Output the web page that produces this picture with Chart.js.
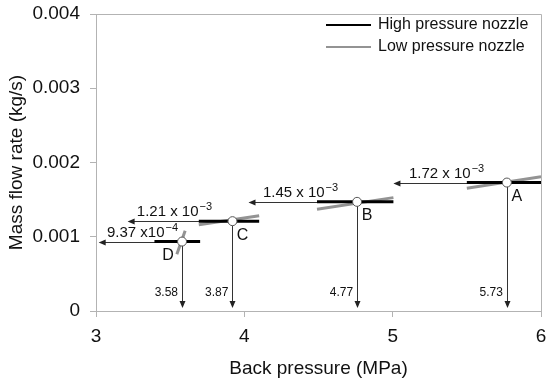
<!DOCTYPE html>
<html>
<head>
<meta charset="utf-8">
<script src="https://cdn.jsdelivr.net/npm/chart.js@4.4.1/dist/chart.umd.min.js"></script>
<style>
  html, body { margin: 0; padding: 0; background: #fff; }
  #wrap { width: 550px; height: 383px; }
</style>
</head>
<body>
<div id="wrap"><canvas id="chart"></canvas></div>
<script>
// operating points
const pointNames = ["A", "B", "C", "D"];
const backPressure = [5.77, 4.76, 3.92, 3.58];
const massFlow = [0.00173, 0.00147, 0.00121, 0.000935];
const pressureLabels = ["5.73", "4.77", "3.87", "3.58"];
const flowLabels = ["1.72 x 10", "1.45 x 10", "1.21 x 10", "9.37 x10"];
const flowExps = ["\u22123", "\u22123", "\u22123", "\u22124"];

// high pressure nozzle: flat segments
const highX0 = [5.50, 4.49, 3.693, 3.394];
const highX1 = [6.00, 5.005, 4.10, 3.702];

// low pressure nozzle: sloped segments
const lowX0 = [5.50, 4.49, 3.693, 3.545];
const lowY0 = [0.001654, 0.001371, 0.001162, 0.000764];
const lowX1 = [6.00, 5.005, 4.10, 3.601];
const lowY1 = [0.00181, 0.001527, 0.001284, 0.001082];

// where the horizontal arrows stop and their text starts
const arrowEndX = [5.005, 4.028, 3.213, 3.018];
const textStartX = [5.11, 4.125, 3.275, 3.074];
const letterSide = ["r", "r", "r", "l"];

const xTicks = [3, 4, 5, 6];
const yTicks = [0, 0.001, 0.002, 0.003, 0.004];

Chart.defaults.font.family = "'Liberation Sans', Arial, sans-serif";
Chart.defaults.color = "#111";

const highData = [], lowData = [];
for (let i = 0; i < pointNames.length; i++) {
    highData.push({x: highX0[i], y: massFlow[i]}, {x: highX1[i], y: massFlow[i]}, {x: highX1[i], y: null});
    lowData.push({x: lowX0[i], y: lowY0[i]}, {x: lowX1[i], y: lowY1[i]}, {x: lowX1[i], y: null});
}
const opData = backPressure.map((p, i) => ({x: p, y: massFlow[i]}));

function arrow(ctx, x1, y1, x2, y2) {
    const a = Math.atan2(y2 - y1, x2 - x1);
    ctx.beginPath();
    ctx.moveTo(x1, y1);
    ctx.lineTo(x2 - 4 * Math.cos(a), y2 - 4 * Math.sin(a));
    ctx.stroke();
    ctx.beginPath();
    ctx.moveTo(x2, y2);
    ctx.lineTo(x2 - 7 * Math.cos(a) + 3 * Math.sin(a), y2 - 7 * Math.sin(a) - 3 * Math.cos(a));
    ctx.lineTo(x2 - 7 * Math.cos(a) - 3 * Math.sin(a), y2 - 7 * Math.sin(a) + 3 * Math.cos(a));
    ctx.closePath();
    ctx.fill();
}

const frameAndArrows = {
    id: "frameAndArrows",
    beforeDatasetsDraw(chart) {
        const {ctx, chartArea: ca, scales: {x, y}} = chart;
        ctx.save();
        // top and right of frame
        ctx.strokeStyle = "#b3b3b3";
        ctx.lineWidth = 1;
        ctx.beginPath();
        ctx.moveTo(ca.left, ca.top + 0.5);
        ctx.lineTo(ca.right + 0.5, ca.top + 0.5);
        ctx.lineTo(ca.right + 0.5, ca.bottom + 6);
        ctx.stroke();

        ctx.strokeStyle = "#333";
        ctx.fillStyle = "#222";
        for (let i = 0; i < pointNames.length; i++) {
            const px = Math.round(x.getPixelForValue(backPressure[i])) + 0.5;
            const py = Math.round(y.getPixelForValue(massFlow[i])) + 0.5;
            arrow(ctx, px, py, x.getPixelForValue(arrowEndX[i]), py);
            arrow(ctx, px, py, px, y.getPixelForValue(0) - 3);
        }
        ctx.restore();
    },
    afterDatasetsDraw(chart) {
        const {ctx, scales: {x, y}} = chart;
        ctx.save();
        ctx.fillStyle = "#111";
        for (let i = 0; i < pointNames.length; i++) {
            const px = x.getPixelForValue(backPressure[i]);
            const py = y.getPixelForValue(massFlow[i]);
            // flow value with exponent
            ctx.textBaseline = "alphabetic";
            ctx.textAlign = "left";
            ctx.font = "15px 'Liberation Sans', Arial, sans-serif";
            const tx = x.getPixelForValue(textStartX[i]);
            const ty = py - 5;
            ctx.fillText(flowLabels[i], tx, ty);
            const w = ctx.measureText(flowLabels[i]).width;
            ctx.font = "11px 'Liberation Sans', Arial, sans-serif";
            ctx.fillText(flowExps[i], tx + w + 1, ty - 6);
            // pressure value beside the down arrow
            ctx.font = "12px 'Liberation Sans', Arial, sans-serif";
            ctx.textAlign = "right";
            ctx.textBaseline = "middle";
            ctx.fillText(pressureLabels[i], px - 4, y.getPixelForValue(0) - 18);
            // point letter
            ctx.font = "16px 'Liberation Sans', Arial, sans-serif";
            ctx.textAlign = "center";
            const dx = letterSide[i] === "r" ? 10 : -14;
            ctx.fillText(pointNames[i], px + dx, py + 14);
        }

        // legend
        const items = [chart.data.datasets[1], chart.data.datasets[0]];
        ctx.font = "16px 'Liberation Sans', Arial, sans-serif";
        ctx.textAlign = "left";
        ctx.textBaseline = "middle";
        items.forEach((ds, k) => {
            const ly = 25 + k * 22;
            ctx.strokeStyle = ds.borderColor;
            ctx.lineWidth = 2;
            ctx.beginPath();
            ctx.moveTo(326, ly);
            ctx.lineTo(371, ly);
            ctx.stroke();
            ctx.fillStyle = "#111";
            ctx.fillText(ds.label, 378, ly);
        });
        ctx.restore();
    }
};

new Chart(document.getElementById("chart"), {
    type: "scatter",
    data: {
        datasets: [
            {label: "Low pressure nozzle", data: lowData, showLine: true, borderColor: "#939393",
             borderWidth: 3, pointRadius: 0, spanGaps: false, order: 2},
            {label: "High pressure nozzle", data: highData, showLine: true, borderColor: "#000",
             borderWidth: 3, pointRadius: 0, spanGaps: false, order: 1},
            {label: "points", data: opData, pointRadius: 4.5, pointBackgroundColor: "#fff",
             pointBorderColor: "#555", pointBorderWidth: 1, order: 0}
        ]
    },
    options: {
        responsive: true,
        maintainAspectRatio: false,
        animation: false,
        layout: {padding: {top: 14, right: 9, left: 0, bottom: 0}},
        plugins: {legend: {display: false}, tooltip: {enabled: false}},
        scales: {
            x: {
                type: "linear", min: 3, max: 6,
                afterFit: s => { s.height = 72; s.paddingLeft = 0; s.paddingRight = 0; },
                afterBuildTicks: s => { s.ticks = xTicks.map(v => ({value: v})); },
                ticks: {font: {size: 19}, color: "#111", padding: 8},
                grid: {drawOnChartArea: false, tickLength: 6, color: "#b3b3b3"},
                border: {color: "#b3b3b3"},
                title: {display: true, text: "Back pressure (MPa)", font: {size: 19}, color: "#111",
                        padding: {top: 0, bottom: 3}}
            },
            y: {
                type: "linear", min: 0, max: 0.004,
                afterFit: s => { s.width = 96; s.paddingTop = 0; s.paddingBottom = 0; },
                afterBuildTicks: s => { s.ticks = yTicks.map(v => ({value: v})); },
                ticks: {font: {size: 19}, color: "#111", padding: 10,
                        callback: v => v === 0 ? "0" : v.toFixed(3)},
                grid: {drawOnChartArea: false, tickLength: 6, color: "#b3b3b3"},
                border: {color: "#b3b3b3"},
                title: {display: true, text: "Mass flow rate (kg/s)", font: {size: 19}, color: "#111",
                        padding: {top: 5, bottom: 0}}
            }
        }
    },
    plugins: [frameAndArrows]
});
</script>
</body>
</html>
